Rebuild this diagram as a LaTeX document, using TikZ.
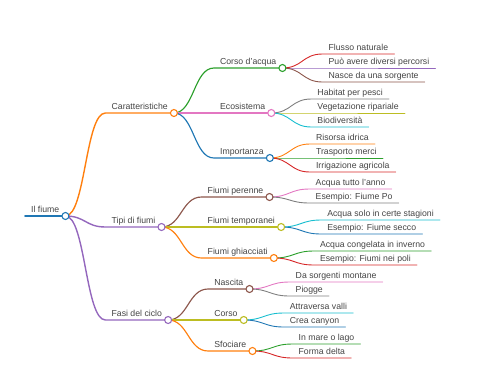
\documentclass[tikz,border=0pt]{standalone}
\usepackage{fontspec}
\setmainfont{Liberation Sans}
\usetikzlibrary{calc}

\definecolor{mmblue}{HTML}{1F77B4}
\definecolor{mmorange}{HTML}{FF7F0E}
\definecolor{mmgreen}{HTML}{2CA02C}
\definecolor{mmred}{HTML}{D62728}
\definecolor{mmpurple}{HTML}{9467BD}
\definecolor{mmbrown}{HTML}{8C564B}
\definecolor{mmpink}{HTML}{E377C2}
\definecolor{mmgray}{HTML}{7F7F7F}
\definecolor{mmolive}{HTML}{BCBD22}
\definecolor{mmcyan}{HTML}{17BECF}
\definecolor{mmtext}{HTML}{444444}

\tikzset{
  mm/.style={anchor=south west, inner xsep=6pt, inner ysep=0pt,
    text height=6.5pt, text depth=3pt, text=mmtext,
    font=\fontsize{8.7}{10}\selectfont},
  knob/.style={fill=white, line width=1.1pt},
}

\begin{document}
\begin{tikzpicture}[x=1pt, y=-1pt, line cap=round, line join=round]
  \useasboundingbox (0,0) rectangle (480,384);

  % Root
  \node[mm] (fiume) at (25,216) {Il fiume};

  % First level
  \node[mm, xshift=40pt] (car)  at (fiume.south east |- 0,113) {Caratteristiche};
  \node[mm, xshift=40pt] (tipi) at (fiume.south east |- 0,227) {Tipi di fiumi};
  \node[mm, xshift=40pt] (fasi) at (fiume.south east |- 0,320) {Fasi del ciclo};

  % Second level
  \node[mm, xshift=40pt] (corso) at (car.south east |- 0,68)  {Corso d'acqua};
  \node[mm, xshift=40pt] (eco)   at (car.south east |- 0,113) {Ecosistema};
  \node[mm, xshift=40pt] (imp)   at (car.south east |- 0,158) {Importanza};
  \node[mm, xshift=40pt] (per)   at (tipi.south east |- 0,197) {Fiumi perenne};
  \node[mm, xshift=40pt] (temp)  at (tipi.south east |- 0,227) {Fiumi temporanei};
  \node[mm, xshift=40pt] (ghi)   at (tipi.south east |- 0,258) {Fiumi ghiacciati};
  \node[mm, xshift=40pt] (nas)   at (fasi.south east |- 0,289) {Nascita};
  \node[mm, xshift=40pt] (cor)   at (fasi.south east |- 0,320) {Corso};
  \node[mm, xshift=40pt] (sfo)   at (fasi.south east |- 0,351) {Sfociare};

  % Leaves
  \node[mm, xshift=40pt] (flusso) at (corso.south east |- 0,54) {Flusso naturale};
  \node[mm, xshift=40pt] (perc)   at (corso.south east |- 0,68) {Può avere diversi percorsi};
  \node[mm, xshift=40pt] (sorg)   at (corso.south east |- 0,82) {Nasce da una sorgente};
  \node[mm, xshift=40pt] (hab)    at (eco.south east |- 0,99)  {Habitat per pesci};
  \node[mm, xshift=40pt] (veg)    at (eco.south east |- 0,113) {Vegetazione ripariale};
  \node[mm, xshift=40pt] (bio)    at (eco.south east |- 0,127) {Biodiversità};
  \node[mm, xshift=40pt] (ris)    at (imp.south east |- 0,144) {Risorsa idrica};
  \node[mm, xshift=40pt] (tras)   at (imp.south east |- 0,158) {Trasporto merci};
  \node[mm, xshift=40pt] (irr)    at (imp.south east |- 0,172) {Irrigazione agricola};
  \node[mm, xshift=40pt] (tutto)  at (per.south east |- 0,189) {Acqua tutto l'anno};
  \node[mm, xshift=40pt] (po)     at (per.south east |- 0,203) {Esempio: Fiume Po};
  \node[mm, xshift=40pt] (stag)   at (temp.south east |- 0,220) {Acqua solo in certe stagioni};
  \node[mm, xshift=40pt] (secco)  at (temp.south east |- 0,234) {Esempio: Fiume secco};
  \node[mm, xshift=40pt] (cong)   at (ghi.south east |- 0,251) {Acqua congelata in inverno};
  \node[mm, xshift=40pt] (poli)   at (ghi.south east |- 0,265) {Esempio: Fiumi nei poli};
  \node[mm, xshift=40pt] (mont)   at (nas.south east |- 0,282) {Da sorgenti montane};
  \node[mm, xshift=40pt] (piog)   at (nas.south east |- 0,296) {Piogge};
  \node[mm, xshift=40pt] (valli)  at (cor.south east |- 0,313) {Attraversa valli};
  \node[mm, xshift=40pt] (canyon) at (cor.south east |- 0,327) {Crea canyon};
  \node[mm, xshift=40pt] (mare)   at (sfo.south east |- 0,344) {In mare o lago};
  \node[mm, xshift=40pt] (delta)  at (sfo.south east |- 0,358) {Forma delta};

  % Root underline
  \draw[mmblue, line width=1.8pt] (fiume.south west) -- (fiume.south east);

  % Links with underlines
  \foreach \a/\b/\c in {fiume/car/mmorange, fiume/tipi/mmpurple, fiume/fasi/mmpurple}
    \draw[\c, line width=1.4pt] (\a.south east) .. controls +(20,0) and +(-20,0) .. (\b.south west) -- (\b.south east);
  \foreach \a/\b/\c in {car/corso/mmgreen, car/eco/mmpink, car/imp/mmblue,
      tipi/per/mmbrown, tipi/temp/mmolive, tipi/ghi/mmorange,
      fasi/nas/mmbrown, fasi/cor/mmolive, fasi/sfo/mmorange}
    \draw[\c, line width=1.15pt] (\a.south east) .. controls +(20,0) and +(-20,0) .. (\b.south west) -- (\b.south east);
  \foreach \a/\b/\c in {corso/flusso/mmred, corso/perc/mmpurple, corso/sorg/mmbrown,
      eco/hab/mmgray, eco/veg/mmolive, eco/bio/mmcyan,
      imp/ris/mmorange, imp/tras/mmgreen, imp/irr/mmred,
      per/tutto/mmpink, per/po/mmgray, temp/stag/mmcyan, temp/secco/mmblue,
      ghi/cong/mmgreen, ghi/poli/mmred, nas/mont/mmpink, nas/piog/mmgray,
      cor/valli/mmcyan, cor/canyon/mmblue, sfo/mare/mmgreen, sfo/delta/mmred}
    \draw[\c, line width=0.9pt] (\a.south east) .. controls +(20,0) and +(-20,0) .. (\b.south west) -- (\b.south east);

  % Knobs on inner nodes
  \foreach \n/\c in {fiume/mmblue, car/mmorange, tipi/mmpurple, fasi/mmpurple,
      corso/mmgreen, eco/mmpink, imp/mmblue, per/mmbrown, temp/mmolive,
      ghi/mmorange, nas/mmbrown, cor/mmolive, sfo/mmorange}
    \draw[\c, knob] (\n.south east) circle[radius=3.5pt];
\end{tikzpicture}
\end{document}
